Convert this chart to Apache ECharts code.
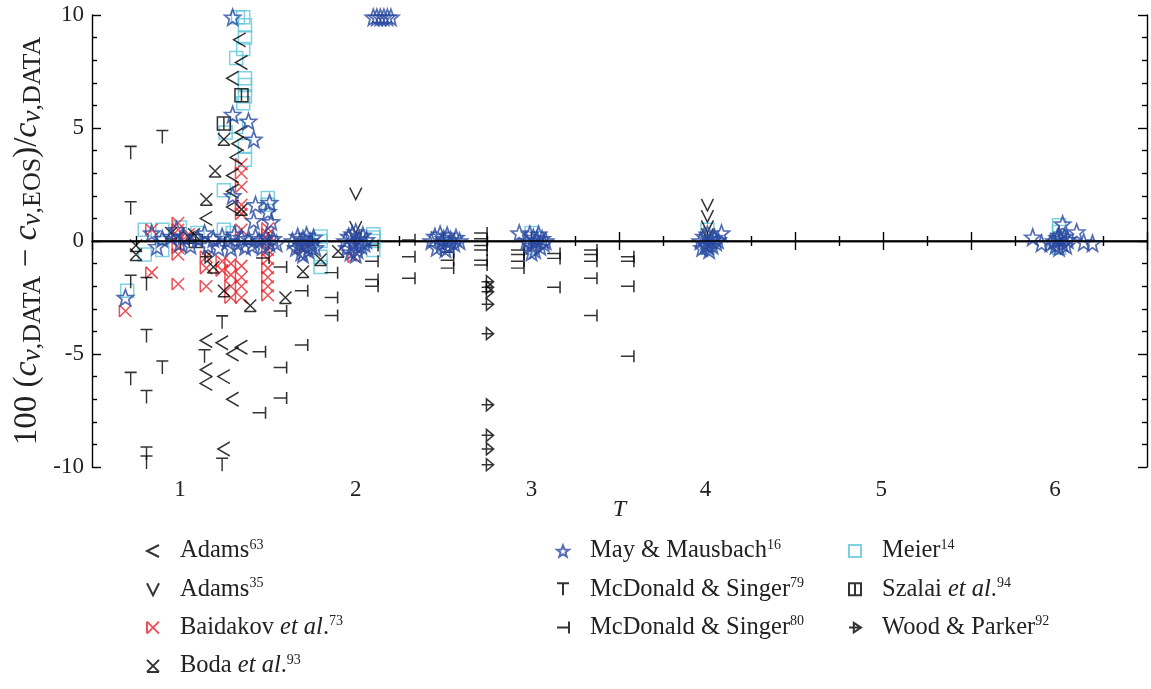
<!DOCTYPE html>
<html>
<head>
<meta charset="utf-8">
<script src="https://cdn.jsdelivr.net/npm/echarts@6/dist/echarts.min.js"></script>
<style>html,body{margin:0;padding:0;background:#fff}#c{width:1151px;height:689px}</style>
</head>
<body>
<div id="c"></div>
<script>
// ---- tick labels / axis settings ----
const xTicks = [1, 2, 3, 4, 5, 6];
const yTicks = [-10, -5, 0, 5, 10];

// ---- data [T, 100*(cv_data - cv_eos)/cv_data] ----
const adams63 = [[1.34,8.9],[1.35,7.9],[1.30,7.2],[1.35,4.8],[1.33,4.3],[1.32,3.7],[1.30,2.9],[1.30,2.2],[1.30,1.5],[1.15,1.0],
  [1.24,-4.5],[1.35,-4.7],[1.30,-5.0],[1.15,-4.4],[1.15,-5.7],[1.15,-6.3],[1.25,-6.0],[1.30,-7.0],[1.25,-9.2]];
const adams35 = [[2.0,2.1],[2.0,0.62],[2.0,0.1],[4.0,1.6],[4.0,1.1],[4.0,0.65],[4.0,0.3]];
const baidakov = [[0.69,-3.1],[0.84,-1.4],[0.99,-1.9],[0.84,0.5],[0.99,0.8],[0.99,0.5],[0.99,0.2],[0.99,-0.3],[0.99,-0.6],[1.05,0.3],
  [1.15,-0.7],[1.15,-1.2],[1.15,-2.0],[1.24,-0.9],[1.24,-1.3],[1.29,-1.0],[1.29,-1.5],[1.29,-2.0],[1.29,-2.5],
  [1.35,-1.1],[1.35,-1.6],[1.35,-2.0],[1.35,-2.5],[1.35,3.4],[1.35,3.0],[1.35,2.4],[1.35,1.6],[1.35,1.2],[1.35,0.5],
  [1.5,0.55],[1.5,0.3],[1.5,0.0],[1.5,-0.4],[1.5,-0.8],[1.5,-1.2],[1.5,-1.6],[1.5,-2.0],[1.5,-2.4],[1.7,-0.3],[1.99,-0.7]];
const boda = [[0.75,-0.2],[0.75,-0.6],[0.95,0.35],[1.05,0.17],[1.25,4.5],[1.20,3.1],[1.15,1.85],[1.19,-1.15],[1.25,-2.2],
  [1.40,-2.85],[1.60,-2.5],[1.70,-1.35],[1.80,-0.82],[1.90,-0.45],[1.35,1.4],[1.08,0.3]];
const mayMausbach = [[0.69,-2.5],[0.84,0.35],[0.87,-0.25],[0.90,0.1],[0.95,0.2],[0.98,0.5],[1.00,-0.1],[1.02,0.2],[1.06,-0.2],
  [1.10,0.1],[1.14,0.35],[1.16,-0.2],[1.19,0.1],[1.22,-0.3],[1.24,0.2],[1.27,0.0],[1.29,-0.3],[1.31,0.3],[1.33,-0.1],
  [1.35,0.15],[1.37,-0.25],[1.39,0.1],[1.41,-0.2],[1.43,0.2],[1.45,0.0],[1.47,-0.25],[1.49,0.15],[1.51,-0.1],[1.53,0.1],[1.55,-0.1],
  [1.30,5.6],[1.39,5.3],[1.42,4.5],[1.30,2.0],[1.43,1.6],[1.50,1.3],[1.51,1.7],[1.42,0.9],[1.52,0.85],[1.30,9.9],
  [2.10,9.9],[2.12,9.9],[2.14,9.9],[2.16,9.9],[2.18,9.9],[2.20,9.9],
  [1.64,0.0],[1.66,-0.3],[1.67,0.2],[1.69,-0.5],[1.70,0.1],[1.71,-0.2],[1.72,0.25],[1.73,-0.4],[1.74,0.0],[1.75,-0.15],[1.76,0.15],[1.77,-0.3],[1.68,-0.1],[1.70,-0.6],
  [1.94,0.0],[1.95,-0.3],[1.96,0.2],[1.97,-0.5],[1.98,0.3],[1.99,-0.1],[2.00,0.4],[2.01,-0.4],[2.02,0.1],[2.03,-0.2],[2.04,0.25],[2.05,-0.1],[2.06,0.05],[2.00,-0.6],
  [2.43,0.0],[2.45,0.2],[2.46,-0.3],[2.48,0.3],[2.49,-0.1],[2.50,0.1],[2.51,-0.35],[2.52,0.25],[2.53,-0.2],[2.54,0.05],[2.56,-0.1],[2.57,0.15],[2.59,0.0],
  [2.93,0.35],[2.97,0.0],[2.99,0.3],[3.00,-0.2],[3.01,0.15],[3.02,-0.4],[3.03,0.05],[3.04,0.3],[3.05,-0.25],[3.06,0.1],[3.07,-0.1],[3.08,0.0],[3.00,-0.5],
  [3.96,0.0],[3.97,-0.3],[3.98,0.2],[3.99,-0.15],[4.00,0.3],[4.01,-0.4],[4.02,0.1],[4.03,-0.2],[4.04,0.15],[4.05,-0.05],[4.06,0.05],[4.00,-0.2],[4.08,0.35],
  [5.85,0.17],[5.90,-0.1],[5.95,-0.1],[5.97,0.0],[5.98,-0.2],[5.99,0.15],[6.00,-0.3],[6.01,0.1],[6.02,-0.1],[6.03,0.2],[6.04,-0.2],[6.00,0.25],[6.05,0.05],
  [6.02,0.75],[6.10,0.4],[6.14,-0.05],[6.19,-0.1]];
const mcdonald79 = [[0.72,3.9],[0.90,4.6],[0.72,1.45],[0.72,-1.8],[0.81,-1.9],[0.81,-4.2],[0.72,-6.1],[0.90,-5.6],[0.81,-6.9],
  [0.81,-9.4],[0.81,-9.8],[1.14,-5.1],[1.24,-3.6],[1.24,-9.9]];
const mcdonald80 = [[1.45,-4.9],[1.45,-7.6],[1.47,-0.75],[1.57,-3.1],[1.57,-5.6],[1.57,-6.95],[1.57,-1.15],[1.69,-2.2],[1.69,-4.6],
  [1.86,-1.4],[1.86,-2.5],[1.86,-3.3],[2.09,-0.2],[2.09,-0.9],[2.09,-1.7],[2.09,-2.0],[2.30,0.05],[2.30,-0.7],[2.30,-1.65],
  [2.52,-0.5],[2.52,-0.85],[2.52,-1.2],[2.71,0.35],[2.71,0.1],[2.71,-0.2],[2.71,-0.4],[2.71,-0.85],[2.71,-1.06],
  [2.92,-0.4],[2.92,-0.6],[2.92,-0.9],[2.92,-1.2],[3.125,-0.55],[3.125,-0.77],[3.125,-2.05],
  [3.335,-0.4],[3.335,-0.6],[3.335,-0.9],[3.335,-1.65],[3.335,-3.3],[3.545,-0.7],[3.545,-0.9],[3.545,-2.0],[3.545,-5.1]];
const meier = [[1.33,9.9],[1.36,9.9],[1.37,9.55],[1.37,9.0],[1.36,8.5],[1.32,8.1],[1.37,7.2],[1.37,6.9],[1.37,6.4],[1.36,6.1],
  [1.32,5.05],[1.26,4.8],[1.37,4.2],[1.37,3.6],[1.25,2.25],[1.50,1.9],[1.50,1.6],[1.25,0.5],[0.80,0.5],[0.90,0.5],[1.00,0.6],
  [1.10,0.35],[1.30,0.35],[0.70,-2.2],[0.80,-0.6],[0.90,-0.4],[1.80,0.2],[1.80,0.0],[1.80,-0.7],[1.80,-1.15],
  [2.10,0.3],[2.10,0.15],[2.10,0.0],[2.10,-0.4],[2.50,-0.2],[3.00,-0.3],[3.00,0.35],[4.00,0.5],[4.00,-0.3],[6.00,0.7],[6.00,0.4],[6.00,-0.3]];
const szalai = [[1.35,6.45],[1.25,5.2],[1.09,0.0]];
const woodParker = [[2.75,-1.8],[2.75,-2.05],[2.75,-2.25],[2.75,-2.8],[2.75,-4.1],[2.75,-7.25],[2.75,-8.6],[2.75,-9.2],[2.75,-9.9],[1.15,-0.7]];

// ---- legend texts ----
const legendText = {
  Adams63: '{n|Adams}{s|63}',
  Adams35: '{n|Adams}{s|35}',
  Baidakov: '{n|Baidakov }{i|et al}{n|.}{s|73}',
  Boda: '{n|Boda }{i|et al}{n|.}{s|93}',
  May: '{n|May & Mausbach}{s|16}',
  McD79: '{n|McDonald & Singer}{s|79}',
  McD80: '{n|McDonald & Singer}{s|80}',
  Meier: '{n|Meier}{s|14}',
  Szalai: '{n|Szalai }{i|et al}{n|.}{s|94}',
  Wood: '{n|Wood & Parker}{s|92}'
};

const FONT = 'Liberation Serif';
const BLACK = '#000000', RED = '#e8242c', BLUE = '#2a4aa0', CYAN = '#5ec6d9';

const SYM = {
  lt: 'path://M10 0 L0 5 L10 10',
  v: 'path://M0 0 L5 10 L10 0',
  bow: 'path://M0 0 L0 10 M0 0 L10 10 M0 10 L10 0',
  xb: 'path://M0 0 L10 10 M10 0 L0 10 M0 10 L10 10',
  star: 'path://M5 0 L6.234 3.301 L9.755 3.455 L6.997 5.649 L7.939 9.045 L5 7.1 L2.061 9.045 L3.003 5.649 L0.245 3.455 L3.766 3.301 Z',
  tee: 'path://M0 0 L10 0 M5 0 L5 10',
  rtee: 'path://M0 5 L10 5 M10 0 L10 10',
  sq: 'path://M0 0 L10 0 L10 10 L0 10 Z',
  sqv: 'path://M0 0 L10 0 L10 10 L0 10 Z M5 0 L5 10',
  arr: 'path://M0 5 L10 5 M4 1 L10 5 L4 9 Z'
};

function sc(name, data, sym, size, color, z, bw) {
  return {
    type: 'scatter', name: name, data: data, symbol: sym, symbolSize: size, z: z,
    itemStyle: { color: 'transparent', borderColor: color, borderWidth: bw || 1.5 },
    emphasis: { disabled: true }
  };
}

const series = [
  sc('Meier', meier, SYM.sq, 13, CYAN, 2),
  sc('Baidakov', baidakov, SYM.bow, 12, RED, 3),
  sc('Szalai', szalai, SYM.sqv, 13, BLACK, 4),
  sc('Adams63', adams63, SYM.lt, [12, 14], BLACK, 4),
  sc('Adams35', adams35, SYM.v, [12, 12], BLACK, 4),
  sc('Boda', boda, SYM.xb, 12, BLACK, 4),
  sc('McD79', mcdonald79, SYM.tee, [12, 13], BLACK, 4),
  sc('McD80', mcdonald80, SYM.rtee, [13, 12], BLACK, 4),
  sc('Wood', woodParker, SYM.arr, [12, 12], BLACK, 4),
  sc('May', mayMausbach, SYM.star, 16, BLUE, 5, 1.7)
];
series[0].markLine = {
  silent: true, symbol: 'none', animation: false, z: 6,
  label: { show: false },
  lineStyle: { color: '#000', width: 1.6, type: 'solid' },
  data: [{ yAxis: 0 }]
};

const LF = 24.5;
const rich = {
  n: { fontFamily: FONT, fontSize: LF, color: '#222', lineHeight: 28 },
  i: { fontFamily: FONT, fontSize: LF, color: '#222', fontStyle: 'italic', lineHeight: 28 },
  s: { fontFamily: FONT, fontSize: 14, color: '#222', verticalAlign: 'top', lineHeight: 15, padding: [1, 0, 0, 0] }
};

function legend(left, data) {
  return {
    orient: 'vertical', left: left, top: 532, data: data,
    itemWidth: 12, itemHeight: 12, itemGap: 11.8, selectedMode: false,
    formatter: n => legendText[n],
    textStyle: { rich: rich, padding: [0, 0, 0, 16] }
  };
}

// x tick labels: small leftward offsets as in the original typesetting
const xLabPad = [0, 0, 0, 4, 4, 8];
const xLabRich = {};
xTicks.forEach((t, k) => {
  xLabRich['p' + t] = { fontFamily: FONT, fontSize: 23, color: '#222', padding: [0, xLabPad[k], 0, 0] };
});

const axisLine = { lineStyle: { color: '#000', width: 1.4 } };
const tickStyle = { lineStyle: { color: '#000', width: 1.4 } };

const option = {
  animation: false,
  backgroundColor: '#fff',
  grid: { left: 91, right: 4, top: 15, bottom: 222, containLabel: false },
  legend: [
    legend(141, ['Adams63', 'Adams35', 'Baidakov', 'Boda']),
    legend(551, ['May', 'McD79', 'McD80']),
    legend(843, ['Meier', 'Szalai', 'Wood'])
  ],
  xAxis: [
    {
      type: 'value', min: 0.5, max: 6.5, interval: 0.5, position: 'bottom',
      name: 'T', nameLocation: 'middle', nameGap: 31, nameMoveOverlap: false,
      nameTextStyle: { fontFamily: FONT, fontSize: 24, fontStyle: 'italic', color: '#222' },
      axisLine: axisLine, splitLine: { show: false },
      axisTick: Object.assign({ inside: true, length: 9 }, tickStyle),
      minorTick: { show: true, splitNumber: 2, length: 5, lineStyle: { color: '#000', width: 1.4 } },
      axisLabel: { fontFamily: FONT, fontSize: 23, color: '#222', margin: 11, rich: xLabRich,
        formatter: v => (xTicks.indexOf(v) >= 0 ? '{p' + v + '|' + v + '}' : '') }
    },
    {
      type: 'value', min: 0.5, max: 6.5, interval: 0.5, position: 'top',
      axisLine: axisLine, splitLine: { show: false },
      axisTick: Object.assign({ inside: true, length: 9 }, tickStyle),
      minorTick: { show: true, splitNumber: 2, length: 5, lineStyle: { color: '#000', width: 1.4 } },
      axisLabel: { show: false }
    }
  ],
  yAxis: [
    {
      type: 'value', min: -10, max: 10, interval: 5, position: 'left',
      name: '100 ({c|c}{v|v}{t|,DATA} − {c|c}{v|v}{t|,EOS})/{c|c}{v|v}{t|,DATA}',
      nameLocation: 'middle', nameGap: 46, nameRotate: 90, nameMoveOverlap: false,
      nameTextStyle: {
        fontFamily: FONT, fontSize: 33, color: '#222', lineHeight: 38,
        rich: {
          c: { fontFamily: FONT, fontSize: 34, fontStyle: 'italic', color: '#222', lineHeight: 38 },
          v: { fontFamily: FONT, fontSize: 27, fontStyle: 'italic', color: '#222', verticalAlign: 'bottom', lineHeight: 24 },
          t: { fontFamily: FONT, fontSize: 26, color: '#222', verticalAlign: 'bottom', lineHeight: 24 }
        }
      },
      axisLine: axisLine, splitLine: { show: false },
      axisTick: Object.assign({ inside: true, length: 9 }, tickStyle),
      minorTick: { show: true, splitNumber: 5, length: 5, lineStyle: { color: '#000', width: 1.4 } },
      axisLabel: { fontFamily: FONT, fontSize: 23, color: '#222', margin: 8,
        formatter: v => (yTicks.indexOf(v) >= 0 ? String(v) : '') }
    },
    {
      type: 'value', min: -10, max: 10, interval: 5, position: 'right',
      axisLine: axisLine, splitLine: { show: false },
      axisTick: Object.assign({ inside: true, length: 9 }, tickStyle),
      minorTick: { show: true, splitNumber: 5, length: 5, lineStyle: { color: '#000', width: 1.4 } },
      axisLabel: { show: false }
    }
  ],
  series: series
};

const chart = echarts.init(document.getElementById('c'), null, { renderer: 'canvas' });
chart.setOption(option);
</script>
</body>
</html>
